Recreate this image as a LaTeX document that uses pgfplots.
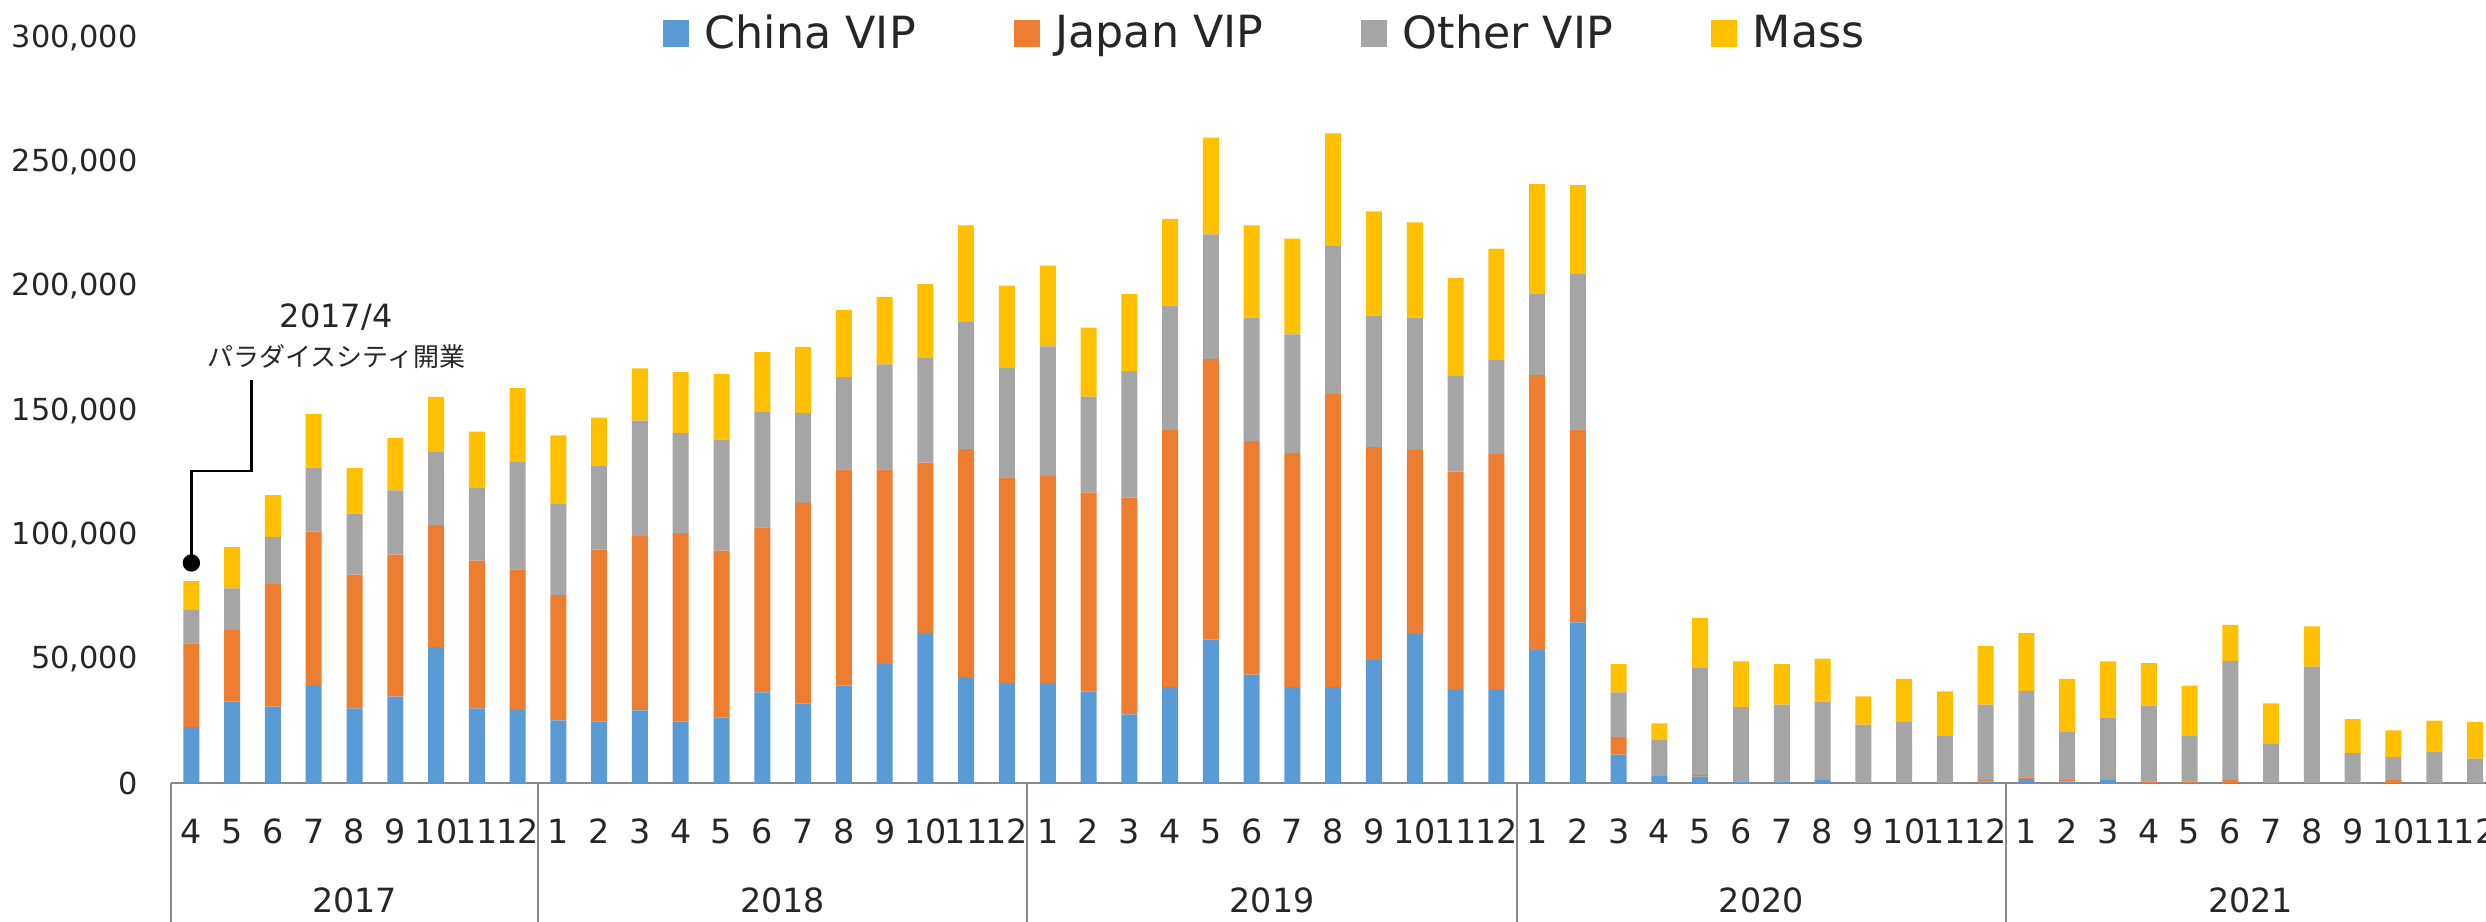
\documentclass[border=0pt]{standalone}
\usepackage{pgfplots}
\pgfplotsset{compat=1.18}
\usepackage{pgfplotstable}
\usepackage{fontspec}
\setmainfont{DejaVu Sans}
\newfontfamily\jp{Noto Sans CJK JP}
\definecolor{cchina}{HTML}{5B9BD5}
\definecolor{cjapan}{HTML}{ED7D31}
\definecolor{cother}{HTML}{A5A5A5}
\definecolor{cmass}{HTML}{FFC000}
\definecolor{axgray}{HTML}{898989}
\definecolor{txt}{HTML}{262626}

\pgfplotstableread{
x china japan other mass
0 22500 33700 13700 11400
1 32900 28700 16800 16600
2 30800 49300 19000 16800
3 39100 62100 25800 21600
4 30100 53800 24600 18300
5 34800 57200 25800 21100
6 54700 49100 29400 22300
7 30100 59500 29100 22800
8 29400 56600 43200 29800
9 25200 50500 36600 27700
10 24800 69200 33600 19500
11 29300 70200 46400 21100
12 24700 75900 40400 24500
13 26400 67200 44700 26500
14 36500 66400 46800 23800
15 32000 80800 36200 26600
16 39200 87100 37100 27000
17 47900 78400 42300 27200
18 60500 68500 42400 29500
19 42600 91900 51200 38800
20 40300 82800 44100 33100
21 40300 83400 52100 32500
22 36900 80100 38600 27800
23 27600 87300 51000 31000
24 38600 103500 49900 35200
25 57800 112900 50200 39000
26 43600 94100 49700 37100
27 38600 94200 47900 38500
28 38600 118000 59900 45100
29 49500 85800 52900 42000
30 60100 74000 53300 38400
31 37500 87900 38400 39600
32 37500 94900 37900 44900
33 53500 110700 32700 44300
34 64700 77700 62600 35800
35 11400 7100 18000 11400
36 2800 0 14800 6400
37 2600 600 43100 20200
38 700 0 29900 18400
39 700 0 30900 16300
40 1200 0 31600 17300
41 0 0 23500 11400
42 0 0 24600 17300
43 0 0 19200 17700
44 700 600 30300 23500
45 1600 700 34800 23300
46 700 600 19500 21100
47 1200 0 24900 22900
48 0 700 30500 17100
49 0 700 18500 20000
50 0 1200 48000 14500
51 0 0 15800 16300
52 0 0 46900 16200
53 0 0 12100 13600
54 0 1200 9300 10700
55 0 0 12600 12500
56 0 0 9800 14800
}\data

\pgfplotsset{
  common/.style={at={(0,0)},anchor=south west,scale only axis,
    width=694.5pt,height=223.5pt,xmin=-0.5,xmax=56.27,ymin=0,ymax=300000},
  sqlegend/.style={legend image code/.code={\fill[##1] (0pt,-3.9pt) rectangle (7.8pt,4.2pt); \path (10.5pt,0pt);}}
}

\begin{document}
\begin{tikzpicture}
\begin{axis}[common,
  ybar stacked, bar width=4.8pt,
  clip=false,
  axis x line*=bottom, axis y line*=left,
  x axis line style={axgray,line width=0.65pt},
  y axis line style={draw=none},
  major tick length=0pt,
  tick style={draw=none},
  xtick=data,
  xticklabels={4,5,6,7,8,9,10,11,12,1,2,3,4,5,6,7,8,9,10,11,12,1,2,3,4,5,6,7,8,9,10,11,12,1,2,3,4,5,6,7,8,9,10,11,12,1,2,3,4,5,6,7,8,9,10,11,12},
  xticklabel style={anchor=center,yshift=-14.5pt,font=\fontsize{10}{12}\selectfont,text=txt},
  ytick={0,50000,100000,150000,200000,250000,300000},
  scaled y ticks=false,
  yticklabels={0,{50,000},{100,000},{150,000},{200,000},{250,000},{300,000}},
  yticklabel style={anchor=east,inner sep=0pt,xshift=-9.9pt,font=\fontsize{9.1}{11}\selectfont,text=txt},
  legend columns=4,
  legend style={at={(0.4735,1.0055)},anchor=center,draw=none,fill=none,
    font=\fontsize{13.3}{16}\selectfont,text=txt,
    /tikz/every even column/.append style={column sep=27.4pt}},
]
\addplot[fill=cchina,draw=none,sqlegend] table[x=x,y=china]{\data};
\addlegendentry{China VIP}
\addplot[fill=cjapan,draw=none,sqlegend] table[x=x,y=japan]{\data};
\addlegendentry{Japan VIP}
\addplot[fill=cother,draw=none,sqlegend] table[x=x,y=other]{\data};
\addlegendentry{Other VIP}
\addplot[fill=cmass,draw=none,sqlegend] table[x=x,y=mass]{\data};
\addlegendentry{Mass}
\draw[axgray,line width=0.65pt] (axis cs:-0.5,0) -- ([yshift=-42pt]axis cs:-0.5,0);
\draw[axgray,line width=0.65pt] (axis cs:8.5,0) -- ([yshift=-42pt]axis cs:8.5,0);
\draw[axgray,line width=0.65pt] (axis cs:20.5,0) -- ([yshift=-42pt]axis cs:20.5,0);
\draw[axgray,line width=0.65pt] (axis cs:32.5,0) -- ([yshift=-42pt]axis cs:32.5,0);
\draw[axgray,line width=0.65pt] (axis cs:44.5,0) -- ([yshift=-42pt]axis cs:44.5,0);
\node[font=\fontsize{10}{12}\selectfont,text=txt,yshift=-35.1pt] at (axis cs:4,0) {2017};
\node[font=\fontsize{10}{12}\selectfont,text=txt,yshift=-35.1pt] at (axis cs:14.5,0) {2018};
\node[font=\fontsize{10}{12}\selectfont,text=txt,yshift=-35.1pt] at (axis cs:26.5,0) {2019};
\node[font=\fontsize{10}{12}\selectfont,text=txt,yshift=-35.1pt] at (axis cs:38.5,0) {2020};
\node[font=\fontsize{10}{12}\selectfont,text=txt,yshift=-35.1pt] at (axis cs:50.5,0) {2021};
\end{axis}
\begin{axis}[common, hide axis, clip=false]
\addplot[black,line width=0.7pt,mark=none] coordinates {(0,88600) (0,125600) (1.47,125600) (1.47,162300)};
\addplot[black,only marks,mark=*,mark size=2.4pt] coordinates {(0,88600)};
\node[font=\fontsize{9.6}{11}\selectfont,text=txt] at (axis cs:3.55,187700) {2017/4};
\node[font=\jp\fontsize{7.8}{9}\selectfont,text=txt] at (axis cs:3.55,171900) {パラダイスシティ開業};
\end{axis}
\pgfresetboundingbox
\path[use as bounding box] (-51.3pt,-41.4pt) rectangle (694.5pt,234.9pt);
\end{tikzpicture}
\end{document}
